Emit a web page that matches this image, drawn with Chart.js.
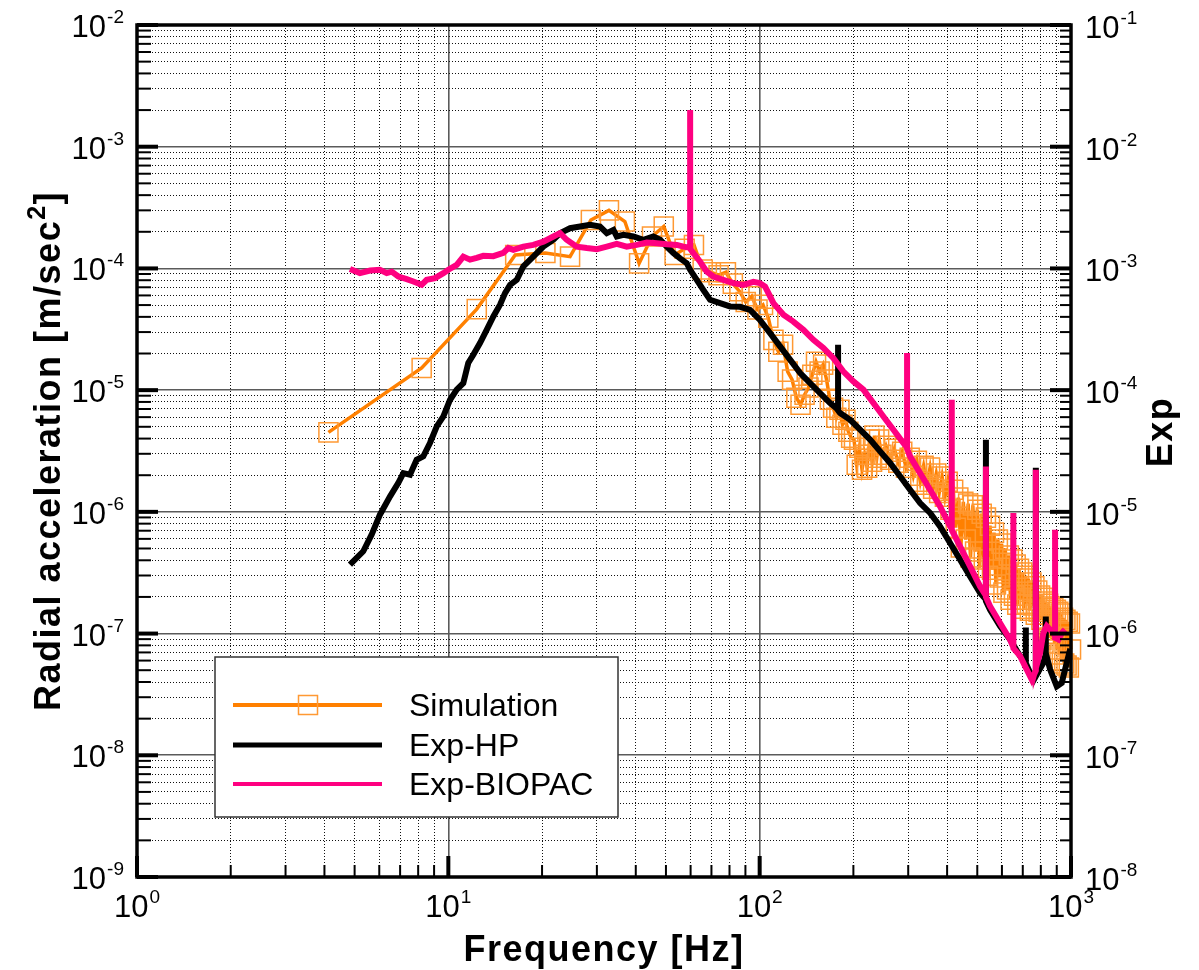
<!DOCTYPE html>
<html>
<head>
<meta charset="utf-8">
<script src="https://cdn.jsdelivr.net/npm/chart.js@4.4.1/dist/chart.umd.min.js"></script>
<style>
  html, body { margin: 0; padding: 0; background: #fff; }
</style>
</head>
<body>
<canvas id="psd" width="1199" height="970"></canvas>
<script>
const FONT = '"Liberation Sans", Arial, sans-serif';

// axis decades (tick labels are drawn as 10^n)
const xDecades = [1, 10, 100, 1000];
const yDecades = [1e-9, 1e-8, 1e-7, 1e-6, 1e-5, 1e-4, 1e-3, 1e-2];
const y2Decades = [1e-8, 1e-7, 1e-6, 1e-5, 1e-4, 1e-3, 1e-2, 1e-1];
const seriesNames = ['Simulation', 'Exp-HP', 'Exp-BIOPAC'];

// Simulation [Hz] / [m/sec^2]
const simFreq = [4.12, 8.21, 12.34, 16.4, 20.5, 24.6, 28.7, 32.8, 36.9, 41.0,
  45.1, 49.2, 53.3, 57.4, 61.5, 65.6, 69.7, 73.8, 77.9, 82.0,
  86.1, 90.2, 94.3, 98.4,
  102.5, 106.6, 110.7, 114.8, 118.9, 123.0, 127.1, 131.2, 135.3, 139.4,
  143.5, 147.6, 151.7, 155.8, 159.9, 164.0, 168.1, 172.2, 176.3, 180.4,
  184.5, 188.6, 192.7, 196.8, 200.9, 205.0, 209.1, 213.2, 217.3, 221.4,
  225.5, 229.6, 233.7, 237.8, 241.9, 246.0,
  254.2, 262.4, 270.6, 278.8, 287.0, 295.2, 303.4, 311.6, 319.8, 328.0,
  336.2, 344.4, 352.6, 360.8, 369.0, 377.2, 385.4, 393.6, 401.8, 410.0,
  418.2, 426.4, 434.6, 442.8, 451.0, 459.2, 467.4, 475.6, 483.8, 492.0,
  500.2, 508.4, 516.6, 524.8, 533.0, 541.2, 549.4, 557.6, 565.8, 574.0,
  582.2, 590.4, 598.6, 606.8, 615.0, 623.2, 631.4, 639.6, 647.8, 656.0,
  664.2, 672.4, 680.6, 688.8, 697.0, 705.2, 713.4, 721.6, 729.8, 738.0,
  746.2, 754.4, 762.6, 770.8, 779.0, 787.2, 795.4, 803.6, 811.8, 820.0,
  828.2, 836.4, 844.6, 852.8, 861.0, 869.2, 877.4, 885.6, 893.8, 902.0,
  910.2, 918.4, 926.6, 934.8, 943.0, 951.2, 959.4, 967.6, 975.8, 984.0,
  992.2, 1000];
const simAccel = [4.5e-6, 1.52e-5, 4.63e-5, 1.29e-4, 1.34e-4, 1.25e-4, 2.5e-4, 3.0e-4, 2.43e-4, 1.1e-4,
  1.83e-4, 2.21e-4, 1.29e-4, 1.45e-4, 1.56e-4, 9.8e-5, 9.3e-5, 8.8e-5, 9.3e-5, 7.5e-5,
  6.5e-5, 5.3e-5, 5.9e-5, 4.6e-5,
  5.02e-5, 3.93e-5, 2.59e-5, 2.07e-5, 2.36e-5, 1.42e-5, 1.22e-5, 8.66e-6, 7.59e-6, 9.17e-6,
  1.05e-5, 1.34e-5, 1.71e-5, 1.42e-5, 1.62e-5, 1.22e-5, 8.34e-6, 7.17e-6, 5.93e-6, 6.90e-6,
  5.20e-6, 5.71e-6, 4.55e-6, 4.07e-6, 3.92e-6, 2.44e-6, 3.36e-6, 2.22e-6, 2.95e-6, 2.31e-6,
  3.92e-6, 2.58e-6, 4.23e-6, 2.78e-6, 3.92e-6, 2.95e-6,
  3.49e-6, 2.68e-6, 3.30e-6, 2.53e-6, 3.12e-6, 2.31e-6, 2.78e-6, 1.98e-6, 2.63e-6, 1.77e-6,
  2.39e-6, 1.67e-6, 2.31e-6, 1.55e-6, 2.06e-6, 1.43e-6, 1.95e-6, 1.33e-6, 1.77e-6, 1.04e-6,
  1.52e-6, 7.41e-7, 1.31e-6, 5.09e-7, 1.21e-6, 5.92e-7, 1.17e-6, 4.22e-7, 1.13e-6, 4.72e-7,
  1.04e-6, 3.48e-7, 9.66e-7, 4.06e-7, 8.96e-7, 2.99e-7, 7.70e-7, 3.35e-7, 6.75e-7, 2.53e-7,
  5.92e-7, 2.89e-7, 5.48e-7, 2.17e-7, 4.99e-7, 2.30e-7, 4.38e-7, 1.90e-7, 4.06e-7, 2.05e-7,
  3.69e-7, 1.73e-7, 3.41e-7, 1.90e-7, 3.17e-7, 1.60e-7, 2.99e-7, 1.76e-7, 2.83e-7, 1.54e-7,
  2.63e-7, 1.70e-7, 2.44e-7, 1.43e-7, 2.26e-7, 1.51e-7, 2.05e-7, 1.30e-7, 1.97e-7, 1.12e-7,
  1.83e-7, 9.99e-8, 1.76e-7, 9.27e-8, 1.67e-7, 8.93e-8, 1.63e-7, 8.28e-8, 1.57e-7, 7.40e-8,
  1.51e-7, 6.73e-8, 1.46e-7, 6.01e-8, 1.35e-7, 5.68e-8, 1.30e-7, 5.47e-8, 1.25e-7, 5.26e-8,
  1.21e-7, 7.40e-8];

// Exp-HP (repeated frequency = line-noise spike)
const hpFreq = [4.83, 5.33, 5.67, 6.03, 6.5, 6.91, 7.17, 7.53, 7.91, 8.31,
  8.73, 9.18, 9.64, 10.13, 10.64, 11.17, 11.59, 12.03, 12.64, 13.28,
  13.95, 14.66, 15.21, 15.79, 16.59, 17.42, 18.75, 20.19, 21.75, 22.85,
  24.6, 26.49, 28.51, 30.7, 32.28, 33.9, 34.75, 36.5, 39.3, 42.3,
  45.55, 47.9, 50.3, 52.8, 55.5, 58.3, 59.8, 62.8, 65.9, 69.3,
  74.6, 80.35, 86.5, 93.1, 100, 108, 116.3, 125.2, 134.9, 145.2,
  156.3, 168.3, 178.6, 178.6, 178.6, 181.2, 195.2, 210.2, 226.3, 243.7,
  262.4, 282.5, 304.1, 327.6, 352.7, 379.7, 408.9, 440.3, 474.1, 510.5,
  533, 533, 533, 549.6, 591.6, 637, 686.4, 716, 716, 716,
  739, 771, 771, 771, 815, 830, 830, 830, 857, 900,
  934, 957, 981, 995];
const hpAccel = [3.69e-7, 4.74e-7, 6.5e-7, 9.48e-7, 1.34e-6, 1.73e-6, 2.08e-6, 2.02e-6, 2.68e-6, 2.86e-6,
  3.68e-6, 5.04e-6, 6.08e-6, 8.34e-6, 1.01e-5, 1.14e-5, 1.67e-5, 1.95e-5, 2.44e-5, 3.13e-5,
  4.03e-5, 5.03e-5, 6.27e-5, 7.33e-5, 8.06e-5, 1.04e-4, 1.25e-4, 1.51e-4, 1.72e-4, 1.95e-4,
  2.14e-4, 2.21e-4, 2.28e-4, 2.21e-4, 1.95e-4, 2.07e-4, 1.83e-4, 1.89e-4, 1.83e-4, 1.72e-4,
  1.83e-4, 1.72e-4, 1.51e-4, 1.34e-4, 1.21e-4, 1.105e-4, 9.74e-5, 8.06e-5, 6.67e-5, 5.52e-5,
  5.19e-5, 4.87e-5, 4.84e-5, 4.57e-5, 3.79e-5, 2.94e-5, 2.29e-5, 1.78e-5, 1.38e-5, 1.14e-5,
  9.46e-6, 7.83e-6, 6.9e-6, 2.36e-5, 6.8e-6, 6.49e-6, 5.71e-6, 4.73e-6, 3.92e-6, 3.14e-6,
  2.52e-6, 1.96e-6, 1.52e-6, 1.18e-6, 9.8e-7, 7.6e-7, 5.55e-7, 4.05e-7, 2.95e-7, 2.16e-7,
  1.9e-7, 3.92e-6, 1.85e-7, 1.57e-7, 1.15e-7, 8.93e-8, 6.52e-8, 5.9e-8, 1.12e-7, 5.7e-8,
  4.76e-8, 4.5e-8, 2.3e-6, 4.46e-8, 5.75e-8, 6.8e-8, 1.38e-7, 6.9e-8, 5.06e-8, 3.69e-8,
  3.94e-8, 5.06e-8, 6.52e-8, 7.5e-8];

// Exp-BIOPAC
const biopacFreq = [4.83, 5.2, 5.61, 6.03, 6.34, 6.58, 6.91, 7.35, 7.72, 8.21,
  8.52, 9.06, 9.64, 10.0, 10.64, 11.17, 11.74, 12.33, 12.95, 13.95,
  15.02, 15.59, 16.18, 17.42, 18.75, 20.19, 21.75, 22.85, 23.99, 25.85,
  27.84, 29.98, 32.28, 34.75, 37.42, 40.3, 43.39, 46.72, 50.3, 54.2,
  56.9, 59.8, 59.8, 59.8, 61.2, 64.3, 67.6, 71.0, 76.4, 82.3,
  88.6, 95.5, 100, 104.1, 106.7, 110.7, 119.2, 128.3, 138.2, 148.8,
  160.2, 172.5, 185.8, 200, 215.4, 231.9, 249.7, 268.9, 289.5, 297.5,
  297.5, 297.5, 304.1, 327.6, 352.7, 379.7, 408.9, 414, 414, 414,
  440.3, 474.1, 510.5, 533, 533, 533, 549.6, 591.6, 637, 653,
  653, 653, 686.4, 721, 748, 771, 771, 771, 795.6, 815,
  836, 878, 889, 889, 889, 911, 934, 957];
const biopacAccel = [9.9e-5, 9.15e-5, 9.6e-5, 9.75e-5, 9.15e-5, 9.4e-5, 8.58e-5, 8.17e-5, 7.81e-5, 7.33e-5,
  8.06e-5, 8.32e-5, 9.15e-5, 9.75e-5, 1.07e-4, 1.25e-4, 1.18e-4, 1.22e-4, 1.27e-4, 1.26e-4,
  1.34e-4, 1.47e-4, 1.42e-4, 1.51e-4, 1.56e-4, 1.66e-4, 1.83e-4, 1.95e-4, 1.72e-4, 1.51e-4,
  1.47e-4, 1.44e-4, 1.51e-4, 1.59e-4, 1.51e-4, 1.56e-4, 1.63e-4, 1.61e-4, 1.58e-4, 1.56e-4,
  1.51e-4, 1.48e-4, 2.0e-3, 1.45e-4, 1.34e-4, 1.14e-4, 9.4e-5, 8.58e-5, 8.06e-5, 7.57e-5,
  7.33e-5, 7.75e-5, 7.57e-5, 7.1e-5, 6.27e-5, 5.19e-5, 4.16e-5, 3.66e-5, 3.13e-5, 2.59e-5,
  2.22e-5, 1.83e-5, 1.42e-5, 1.18e-5, 1.01e-5, 7.83e-6, 6.08e-6, 4.73e-6, 3.68e-6, 3.4e-6,
  2.02e-5, 3.3e-6, 2.86e-6, 2.08e-6, 1.52e-6, 1.11e-6, 7.6e-7, 7.3e-7, 8.34e-6, 7.1e-7,
  5.21e-7, 3.57e-7, 2.44e-7, 2.05e-7, 2.36e-6, 2.0e-7, 1.68e-7, 1.22e-7, 8.93e-8, 7.7e-8,
  9.8e-7, 7.6e-8, 6.52e-8, 5.06e-8, 4.19e-8, 4.97e-8, 2.22e-6, 5.2e-8, 6.95e-8, 1.01e-7,
  1.15e-7, 1.01e-7, 9.5e-8, 7.14e-7, 9.2e-8, 8.93e-8, 1.01e-7, 1.08e-7];

const ORANGE = '#FF8000';
const PINK = '#FF0080';

function toPoints(xs, ys){
  return xs.map(function(x, i){ return {x: x, y: ys[i]}; });
}

function isDecade(v){
  let l = Math.log10(v);
  return Math.abs(l - Math.round(l)) < 1e-6;
}

// decade ticks plus 2..9 minor ticks inside each decade
function logTicks(decades){
  let out = [];
  decades.forEach(function(d, i){
    out.push({value: d});
    if (i < decades.length - 1)
      for (let m = 2; m <= 9; m++) out.push({value: d * m});
  });
  return out;
}

const gridOpts = {
  drawTicks: false,
  color: function(c){ return c.tick && isDecade(c.tick.value) ? '#5a5a5a' : '#111'; },
  lineWidth: function(c){ return c.tick && isDecade(c.tick.value) ? 1.6 : 1; }
};
const borderOpts = {
  display: false,
  dash: function(c){ return c.tick && isDecade(c.tick.value) ? [] : [1, 2]; }
};

function drawPower(ctx, exp, x, baseY, align){
  let base = '10', sup = String(exp);
  ctx.font = '31px ' + FONT;
  let wb = ctx.measureText(base).width;
  ctx.font = '19px ' + FONT;
  let ws = ctx.measureText(sup).width;
  let x0 = x;
  if (align == 'right') x0 = x - wb - ws - 1;
  if (align == 'center') x0 = x - (wb + ws + 1) / 2;
  ctx.textAlign = 'left';
  ctx.textBaseline = 'alphabetic';
  ctx.font = '31px ' + FONT;
  ctx.fillText(base, x0, baseY);
  ctx.font = '19px ' + FONT;
  ctx.fillText(sup, x0 + wb + 1, baseY - 14);
}

function drawTicksOn(ctx, scale, a, side){
  scale.ticks.forEach(function(t){
    let p = scale.getPixelForValue(t.value);
    let major = isDecade(t.value);
    ctx.lineWidth = major ? 4 : 2;
    ctx.beginPath();
    if (side == 'bottom'){
      ctx.moveTo(p, a.bottom); ctx.lineTo(p, a.bottom - (major ? 21 : 12));
    } else if (side == 'left'){
      ctx.moveTo(a.left, p); ctx.lineTo(a.left + (major ? 21 : 14), p);
    } else {
      ctx.moveTo(a.right, p); ctx.lineTo(a.right - (major ? 21 : 11), p);
    }
    ctx.stroke();
  });
}

const axisDecor = {
  id: 'axisDecor',
  afterDatasetsDraw(chart){
    const {ctx, chartArea: a, scales} = chart;
    ctx.save();
    ctx.strokeStyle = '#000';
    ctx.lineCap = 'butt';
    drawTicksOn(ctx, scales.x, a, 'bottom');
    drawTicksOn(ctx, scales.y, a, 'left');
    drawTicksOn(ctx, scales.y2, a, 'right');
    ctx.lineWidth = 3.5;
    ctx.strokeRect(a.left, a.top, a.right - a.left, a.bottom - a.top);
    ctx.restore();
  },
  afterDraw(chart){
    const {ctx, chartArea: a, scales} = chart;
    ctx.save();
    ctx.fillStyle = '#000';

    // tick labels
    xDecades.forEach(function(d){
      drawPower(ctx, Math.round(Math.log10(d)), scales.x.getPixelForValue(d), a.bottom + 40, 'center');
    });
    yDecades.forEach(function(d){
      drawPower(ctx, Math.round(Math.log10(d)), a.left - 13, scales.y.getPixelForValue(d) + 12, 'right');
    });
    y2Decades.forEach(function(d){
      drawPower(ctx, Math.round(Math.log10(d)), a.right + 14, scales.y2.getPixelForValue(d) + 13, 'left');
    });

    // axis titles
    ctx.letterSpacing = '1.5px';
    ctx.font = 'bold 36px ' + FONT;
    ctx.textAlign = 'center';
    ctx.fillText('Frequency [Hz]', (a.left + a.right) / 2, 961);

    ctx.save();
    ctx.translate(60, (a.top + a.bottom) / 2);
    ctx.rotate(-Math.PI / 2);
    ctx.textAlign = 'left';
    let t1 = 'Radial acceleration [m/sec', t2 = '2', t3 = ']';
    ctx.font = 'bold 36px ' + FONT;
    let w1 = ctx.measureText(t1).width, w3 = ctx.measureText(t3).width;
    ctx.font = 'bold 25px ' + FONT;
    let w2 = ctx.measureText(t2).width;
    let sx = -(w1 + w2 + w3) / 2;
    ctx.font = 'bold 36px ' + FONT;
    ctx.fillText(t1, sx, 0);
    ctx.font = 'bold 25px ' + FONT;
    ctx.fillText(t2, sx + w1, -15);
    ctx.font = 'bold 36px ' + FONT;
    ctx.fillText(t3, sx + w1 + w2, 0);
    ctx.restore();

    ctx.save();
    ctx.translate(1172, 432);
    ctx.rotate(-Math.PI / 2);
    ctx.font = 'bold 36px ' + FONT;
    ctx.textAlign = 'center';
    ctx.fillText('Exp', 0, 0);
    ctx.restore();
    ctx.letterSpacing = '0px';

    // legend box
    let lx = 215, ly = 657, lw = 403, lh = 160;
    ctx.fillStyle = '#fff';
    ctx.fillRect(lx, ly, lw, lh);
    ctx.strokeStyle = '#333';
    ctx.lineWidth = 1.5;
    ctx.strokeRect(lx, ly, lw, lh);
    let rows = [
      {y: 705, color: ORANGE, width: 4, square: true},
      {y: 745, color: '#000', width: 5, square: false},
      {y: 784, color: PINK, width: 4, square: false}
    ];
    rows.forEach(function(r, i){
      ctx.strokeStyle = r.color;
      ctx.lineWidth = r.width;
      ctx.beginPath();
      ctx.moveTo(233, r.y); ctx.lineTo(382, r.y);
      ctx.stroke();
      if (r.square){
        ctx.strokeStyle = '#FF9933';
        ctx.lineWidth = 1.5;
        ctx.strokeRect(298.5, r.y - 9.5, 19, 19);
      }
      ctx.fillStyle = '#000';
      ctx.font = '32px ' + FONT;
      ctx.textAlign = 'left';
      ctx.textBaseline = 'alphabetic';
      ctx.fillText(seriesNames[i], 409, r.y + 11);
    });
    ctx.restore();
  }
};

new Chart(document.getElementById('psd'), {
  type: 'line',
  data: {
    datasets: [
      {
        label: seriesNames[0],
        data: toPoints(simFreq, simAccel),
        yAxisID: 'y',
        borderColor: ORANGE,
        borderWidth: 3.5,
        tension: 0,
        pointStyle: 'rect',
        pointRadius: 13.5,
        pointBorderWidth: 1.5,
        pointBorderColor: '#FF9933',
        pointBackgroundColor: 'rgba(0,0,0,0)',
        clip: {left: 12, top: 12, right: 16, bottom: 12},
        order: 3
      },
      {
        label: seriesNames[1],
        data: toPoints(hpFreq, hpAccel),
        yAxisID: 'y',
        borderColor: '#000',
        borderWidth: 6,
        pointRadius: 0,
        tension: 0,
        order: 2
      },
      {
        label: seriesNames[2],
        data: toPoints(biopacFreq, biopacAccel),
        yAxisID: 'y',
        borderColor: PINK,
        borderWidth: 6,
        pointRadius: 0,
        tension: 0,
        order: 1
      }
    ]
  },
  options: {
    responsive: false,
    animation: false,
    devicePixelRatio: 1,
    layout: { padding: {left: 137, top: 25, right: 128, bottom: 93} },
    plugins: {
      legend: { display: false },
      tooltip: { enabled: false }
    },
    scales: {
      x: {
        type: 'logarithmic',
        position: 'bottom',
        min: 1, max: 1000,
        grid: gridOpts,
        border: borderOpts,
        ticks: { display: false, autoSkip: false },
        afterBuildTicks: function(s){ s.ticks = logTicks(xDecades); },
        afterFit: function(s){ s.height = 0; }
      },
      y: {
        type: 'logarithmic',
        position: 'left',
        min: 1e-9, max: 1e-2,
        grid: gridOpts,
        border: borderOpts,
        ticks: { display: false, autoSkip: false },
        afterBuildTicks: function(s){ s.ticks = logTicks(yDecades); },
        afterFit: function(s){ s.width = 0; }
      },
      y2: {
        type: 'logarithmic',
        position: 'right',
        min: 1e-8, max: 1e-1,
        grid: { display: false, drawTicks: false },
        border: { display: false },
        ticks: { display: false, autoSkip: false },
        afterBuildTicks: function(s){ s.ticks = logTicks(y2Decades); },
        afterFit: function(s){ s.width = 0; }
      }
    }
  },
  plugins: [axisDecor]
});
</script>
</body>
</html>
